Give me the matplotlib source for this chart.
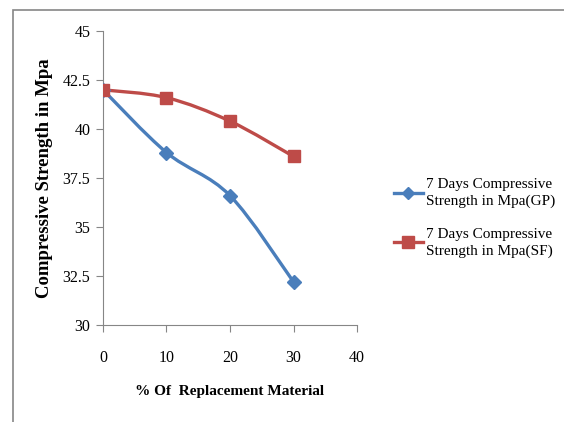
import numpy as np
import matplotlib
matplotlib.use("Agg")
import matplotlib.pyplot as plt
from matplotlib.path import Path
from matplotlib.patches import PathPatch, Rectangle
from matplotlib.lines import Line2D

plt.rcParams['font.family'] = ['Liberation Serif', 'DejaVu Serif']

# data
replacement = [0, 10, 20, 30]
gp_strength = [42.0, 38.8, 36.6, 32.2]
sf_strength = [42.0, 41.6, 40.4, 38.6]
labels = ['7 Days Compressive\nStrength in Mpa(GP)',
          '7 Days Compressive\nStrength in Mpa(SF)']
x_ticks = [0, 10, 20, 30, 40]
y_ticks = [30, 32.5, 35, 37.5, 40, 42.5, 45]
y_ticklabels = ['30', '32.5', '35', '37.5', '40', '42.5', '45']

blue = '#4a7ebb'
red = '#be4b48'
grey = '#868686'


def smooth_path(xs, ys):
    # Excel style smoothed line: cubic bezier through the points
    p = np.column_stack([xs, ys]).astype(float)
    pts = np.vstack([p[0], p, p[-1]])
    verts = [tuple(p[0])]
    codes = [Path.MOVETO]
    for i in range(1, len(pts) - 2):
        c1 = pts[i] + (pts[i + 1] - pts[i - 1]) / 6
        c2 = pts[i + 1] - (pts[i + 2] - pts[i]) / 6
        verts += [tuple(c1), tuple(c2), tuple(pts[i + 1])]
        codes += [Path.CURVE4] * 3
    return Path(verts, codes)


fig = plt.figure(figsize=(5.64, 4.22), dpi=100)
ax = fig.add_axes([0.1826, 0.2299, 0.633 - 0.1826, 0.9265 - 0.2299])

# outer chart border (top and left visible)
fig.add_artist(Rectangle((13 / 564, -0.1), 1.2, (422 - 10) / 422 + 0.1,
                         transform=fig.transFigure, fill=False,
                         edgecolor=grey, lw=1.2))

for ys, col, mk, ms in [(gp_strength, blue, 'D', 7), (sf_strength, red, 's', 9)]:
    ax.add_patch(PathPatch(smooth_path(replacement, ys), fill=False,
                           edgecolor=col, lw=2.4, capstyle='round', zorder=2))
    ax.plot(replacement, ys, ls='none', marker=mk, ms=ms, color=col, zorder=3)

ax.set_xlim(0, 40)
ax.set_ylim(30, 45)
ax.set_xticks(x_ticks)
ax.set_yticks(y_ticks)
ax.set_yticklabels(y_ticklabels)
ax.tick_params(direction='out', length=5, color=grey, labelsize=11.5)
ax.tick_params(axis='x', pad=13)
ax.tick_params(axis='y', pad=4)
for s in ['top', 'right']:
    ax.spines[s].set_visible(False)
for s in ['left', 'bottom']:
    ax.spines[s].set_color(grey)

ax.set_xlabel('% Of  Replacement Material', fontsize=11, fontweight='bold', labelpad=14)
ax.set_ylabel('Compressive Strength in Mpa', fontsize=13.5, fontweight='bold', labelpad=7)

handles = [Line2D([], [], color=blue, lw=2.4, marker='D', ms=6),
           Line2D([], [], color=red, lw=2.4, marker='s', ms=8)]
leg = fig.legend(handles, labels, loc='center left', bbox_to_anchor=(380 / 564, 1 - 218 / 422),
                 frameon=False, fontsize=11, handlelength=1.9, handletextpad=0.2,
                 labelspacing=1.3)
for t in leg.get_texts():
    t.set_linespacing(1.3)

fig.savefig('out.png', dpi=100)
